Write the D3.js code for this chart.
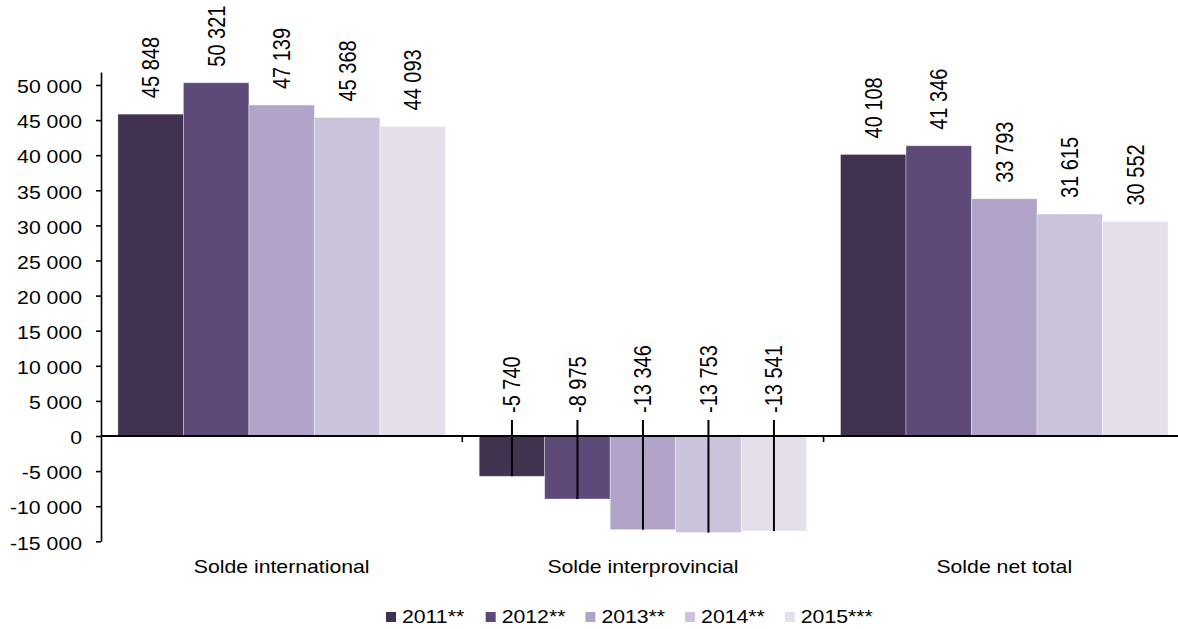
<!DOCTYPE html>
<html>
<head>
<meta charset="utf-8">
<script src="https://cdn.jsdelivr.net/npm/d3@7/dist/d3.min.js"></script>
<style>
  html, body { margin: 0; padding: 0; background: #fff; }
  svg { display: block; }
  text { font-family: "Liberation Sans", Arial, sans-serif; fill: #000; }
</style>
</head>
<body>
<svg id="chart" width="1178" height="629"></svg>
<script>
// ---- data ----
const categories = ["Solde international", "Solde interprovincial", "Solde net total"];
const years = ["2011**", "2012**", "2013**", "2014**", "2015***"];
const soldeInternational = [45848, 50321, 47139, 45368, 44093];
const soldeInterprovincial = [-5740, -8975, -13346, -13753, -13541];
const soldeNetTotal = [40108, 41346, 33793, 31615, 30552];
const yTicks = [-15000, -10000, -5000, 0, 5000, 10000, 15000, 20000, 25000, 30000, 35000, 40000, 45000, 50000];
const colors = ["#413250", "#5e4a78", "#b2a3c8", "#cbc2db", "#e5dfec"];

const seriesByCat = [soldeInternational, soldeInterprovincial, soldeNetTotal];

// ---- layout ----
const svg = d3.select("#chart");
const left = 101, catStep = 361.3;
const yMin = -15000, yMax = 51850;

const y = d3.scaleLinear().domain([yMin, yMax]).range([541.3, 72]);
const x0 = d3.scaleBand().domain(categories).range([left, left + catStep * categories.length]).padding(0);
const x1 = d3.scaleBand().domain(years).range([0, x0.bandwidth()]).paddingInner(0).paddingOuter(0.258);

const fr = d3.formatLocale({decimal: ",", thousands: "\u00a0", grouping: [3], currency: ["", ""], minus: "-"});
const fmt = v => fr.format(",")(v).replace(/\u00a0/g, " ");

const SX = 1.18; // horizontal stretch of text

// ---- bars ----
const data = [];
categories.forEach((c, ci) => years.forEach((yr, yi) => data.push({cat: c, year: yr, yi, v: seriesByCat[ci][yi]})));

svg.append("g").selectAll("rect").data(data).join("rect")
  .attr("x", d => x0(d.cat) + x1(d.year))
  .attr("width", x1.bandwidth())
  .attr("y", d => y(Math.max(0, d.v)))
  .attr("height", d => Math.abs(y(d.v) - y(0)))
  .attr("fill", d => colors[d.yi])
  .attr("stroke", "rgba(255,255,255,0.45)")
  .attr("stroke-width", 0.8);

// ---- leader lines for negative values ----
const negLabelBase = 413;
svg.append("g").selectAll("line").data(data.filter(d => d.v < 0)).join("line")
  .attr("x1", d => x0(d.cat) + x1(d.year) + x1.bandwidth() / 2)
  .attr("x2", d => x0(d.cat) + x1(d.year) + x1.bandwidth() / 2)
  .attr("y1", negLabelBase + 7)
  .attr("y2", d => y(d.v))
  .attr("stroke", "#000").attr("stroke-width", 2);

// ---- data labels ----
svg.append("g").selectAll("g").data(data).join("g")
  .attr("transform", d => {
    const cx = x0(d.cat) + x1(d.year) + x1.bandwidth() / 2;
    const yy = d.v >= 0 ? y(d.v) - 16 : negLabelBase;
    return `translate(${cx},${yy}) scale(1.17,1) rotate(-90)`;
  })
  .append("text")
  .attr("dy", "0.36em")
  .attr("text-anchor", "start")
  .style("font-size", "20px")
  .text(d => fmt(d.v));

// ---- y axis ----
const yAxis = d3.axisLeft(y).tickValues(yTicks).tickSize(5).tickSizeOuter(0).tickFormat("");
const ya = svg.append("g").attr("transform", `translate(${left},0)`).call(yAxis);
ya.select(".domain").attr("stroke", "#000").attr("stroke-width", 1.6);
ya.selectAll(".tick line").attr("stroke", "#000").attr("stroke-width", 1.6);

svg.append("g").selectAll("g").data(yTicks).join("g")
  .attr("transform", d => `translate(82,${y(d) + 8.3}) scale(${SX},1)`)
  .append("text")
  .attr("text-anchor", "end")
  .style("font-size", "18px")
  .text(d => fmt(d));

// ---- category axis on zero line ----
svg.append("line")
  .attr("x1", x0.range()[0]).attr("x2", x0.range()[1])
  .attr("y1", y(0)).attr("y2", y(0))
  .attr("stroke", "#000").attr("stroke-width", 1.8);

const bounds = categories.map(c => x0(c)).slice(1);
svg.append("g").selectAll("line").data(bounds).join("line")
  .attr("x1", d => d).attr("x2", d => d)
  .attr("y1", y(0)).attr("y2", y(0) + 6)
  .attr("stroke", "#000").attr("stroke-width", 1.6);

svg.append("g").selectAll("g").data(categories).join("g")
  .attr("transform", c => `translate(${x0(c) + x0.bandwidth() / 2},573) scale(${SX},1)`)
  .append("text")
  .attr("text-anchor", "middle")
  .style("font-size", "18px")
  .text(c => c);

// ---- legend ----
const lg = svg.append("g").selectAll("g").data(years).join("g")
  .attr("transform", (d, i) => `translate(${386 + i * 99.7},612)`);
lg.append("rect").attr("width", 10).attr("height", 10).attr("fill", (d, i) => colors[i]);
lg.append("g").attr("transform", `translate(16,11) scale(${SX},1)`)
  .append("text").style("font-size", "18px").text(d => d);
</script>
</body>
</html>
